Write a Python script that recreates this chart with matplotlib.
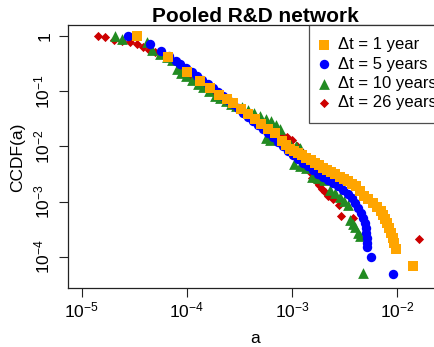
import numpy as np
import matplotlib
matplotlib.use("Agg")
import matplotlib.pyplot as plt
from matplotlib.ticker import FixedLocator, FuncFormatter, NullLocator

plt.rcParams['font.family'] = ['Liberation Sans', 'DejaVu Sans']
plt.rcParams['mathtext.fontset'] = 'custom'
plt.rcParams['mathtext.rm'] = 'Liberation Sans'
plt.rcParams['mathtext.it'] = 'Liberation Sans:italic'

# Complementary cumulative distributions of activity a (log10 values)
log10_a_1yr = [-4.472, -4.178, -3.997, -3.872, -3.782, -3.696, -3.623, -3.560, -3.487, -3.418,
               -3.354, -3.291, -3.228, -3.164, -3.098, -3.060, -3.022, -2.984, -2.946, -2.908,
               -2.863, -2.822, -2.784, -2.746, -2.706, -2.670, -2.632, -2.594, -2.547, -2.509,
               -2.471, -2.433, -2.388, -2.357, -2.319, -2.281, -2.234, -2.196, -2.158, -2.139,
               -2.120, -2.101, -2.082, -2.063, -2.044, -2.034, -2.015, -1.851]
log10_ccdf_1yr = [0.0, -0.375, -0.643, -0.806, -0.933, -1.060, -1.147, -1.219, -1.322, -1.413,
                  -1.509, -1.600, -1.690, -1.763, -1.902, -1.975, -2.047, -2.083, -2.120, -2.156,
                  -2.201, -2.246, -2.292, -2.337, -2.382, -2.428, -2.464, -2.500, -2.549, -2.591,
                  -2.627, -2.681, -2.717, -2.808, -2.899, -2.953, -3.025, -3.098, -3.170, -3.243,
                  -3.315, -3.388, -3.478, -3.569, -3.659, -3.750, -3.864, -4.167]

log10_a_5yr = [-4.560, -4.351, -4.247, -4.171, -4.104, -4.066, -4.009, -3.952, -3.905, -3.858,
               -3.800, -3.753, -3.706, -3.658, -3.611, -3.563, -3.516, -3.468, -3.421, -3.373,
               -3.326, -3.278, -3.231, -3.183, -3.136, -3.088, -3.041, -2.993, -2.946, -2.898,
               -2.851, -2.803, -2.756, -2.708, -2.661, -2.613, -2.566, -2.519, -2.471, -2.433,
               -2.405, -2.376, -2.348, -2.329, -2.310, -2.300, -2.295, -2.291, -2.286, -2.284,
               -2.253, -2.041]
log10_ccdf_5yr = [0.0, -0.136, -0.272, -0.362, -0.453, -0.507, -0.580, -0.652, -0.725, -0.797,
                  -0.870, -0.942, -1.014, -1.087, -1.159, -1.232, -1.304, -1.395, -1.467, -1.540,
                  -1.612, -1.685, -1.757, -1.830, -1.920, -1.993, -2.083, -2.156, -2.228, -2.301,
                  -2.355, -2.428, -2.500, -2.554, -2.609, -2.663, -2.717, -2.790, -2.862, -2.935,
                  -3.025, -3.116, -3.207, -3.297, -3.388, -3.478, -3.569, -3.659, -3.750, -3.828,
                  -4.009, -4.312]

log10_a_10yr = [-4.684, -4.617, -4.380, -4.332, -4.256, -4.190, -4.142, -4.095, -4.057, -4.009,
                -3.952, -3.896, -3.848, -3.791, -3.734, -3.687, -3.630, -3.582, -3.535, -3.478,
                -3.421, -3.364, -3.307, -3.250, -3.202, -3.155, -3.117, -3.250, -3.212, -3.079,
                -3.022, -2.965, -2.927, -2.984, -2.927, -2.870, -2.813, -2.756, -2.699, -2.642,
                -2.594, -2.547, -2.509, -2.471, -2.452, -2.424, -2.405, -2.376, -2.357, -2.326]
log10_ccdf_10yr = [0.0, -0.054, -0.100, -0.254, -0.326, -0.380, -0.435, -0.598, -0.670, -0.725,
                   -0.797, -0.870, -0.924, -0.996, -1.087, -1.123, -1.178, -1.232, -1.268, -1.286,
                   -1.341, -1.395, -1.449, -1.504, -1.540, -1.612, -1.685, -1.848, -1.884, -1.884,
                   -1.957, -1.993, -2.029, -2.319, -2.355, -2.391, -2.554, -2.572, -2.609, -2.790,
                   -2.844, -2.917, -2.989, -3.062, -3.333, -3.406, -3.460, -3.569, -3.623, -4.299]

log10_a_26yr = [-4.848, -4.779, -4.693, -4.617, -4.541, -4.475, -4.418, -4.361, -4.304, -4.237,
                -4.171, -4.114, -4.066, -4.009, -3.962, -3.905, -3.848, -3.791, -3.734, -3.677,
                -3.620, -3.563, -3.506, -3.449, -3.392, -3.335, -3.278, -3.221, -3.164, -3.107,
                -3.050, -3.003, -2.955, -2.908, -2.860, -2.832, -2.813, -2.775, -2.746, -2.718,
                -2.689, -2.661, -2.613, -2.556, -2.531, -2.421, -1.794]
log10_ccdf_26yr = [0.0, -0.010, -0.063, -0.091, -0.109, -0.145, -0.190, -0.245, -0.281, -0.326,
                   -0.380, -0.453, -0.543, -0.616, -0.725, -0.815, -0.888, -0.960, -1.051, -1.123,
                   -1.196, -1.268, -1.341, -1.395, -1.467, -1.540, -1.612, -1.685, -1.739, -1.775,
                   -1.830, -1.884, -1.993, -2.101, -2.210, -2.464, -2.572, -2.627, -2.699, -2.772,
                   -2.826, -2.899, -2.953, -3.062, -3.255, -3.302, -3.677]

series_labels = ["\u0394t = 1 year", "\u0394t = 5 years", "\u0394t = 10 years", "\u0394t = 26 years"]
x_tick_exponents = [-5, -4, -3, -2]
y_tick_exponents = [0, -1, -2, -3, -4]

W, H = 434, 347
fig = plt.figure(figsize=(W / 100, H / 100), dpi=100)
ax = fig.add_axes([68 / W, 1 - 288 / H, 374 / W, 263 / H])
ax.set_xscale('log')
ax.set_yscale('log')

styles = {
    '1yr': dict(marker='s', color='#FFA500', s=52),
    '5yr': dict(marker='o', color='#0000FF', s=46),
    '10yr': dict(marker='^', color='#228B22', s=60),
    '26yr': dict(marker='D', color='#CD0000', s=22),
}
data = {
    '1yr': (log10_a_1yr, log10_ccdf_1yr),
    '5yr': (log10_a_5yr, log10_ccdf_5yr),
    '10yr': (log10_a_10yr, log10_ccdf_10yr),
    '26yr': (log10_a_26yr, log10_ccdf_26yr),
}
handles = {}
# back-to-front: longest window underneath, 1-year window on top
for key in ['26yr', '10yr', '5yr', '1yr']:
    la, lc = data[key]
    handles[key] = ax.scatter(10.0 ** np.array(la), 10.0 ** np.array(lc),
                              linewidths=0, zorder=3, **styles[key])

ax.set_xlim(10 ** -5.13, 10 ** -1.575)
ax.set_ylim(10 ** -4.565, 10 ** 0.2)

def pow_fmt(v, pos):
    e = int(round(np.log10(v)))
    if e == 0:
        return '1'
    return r'$\mathregular{10^{%d}}$' % e

ax.xaxis.set_major_locator(FixedLocator([10.0 ** e for e in x_tick_exponents]))
ax.yaxis.set_major_locator(FixedLocator([10.0 ** e for e in y_tick_exponents]))
ax.xaxis.set_minor_locator(NullLocator())
ax.yaxis.set_minor_locator(NullLocator())
ax.xaxis.set_major_formatter(FuncFormatter(pow_fmt))
ax.yaxis.set_major_formatter(FuncFormatter(pow_fmt))
ax.tick_params(axis='both', direction='out', length=6.8, width=0.8, labelsize=12.5, color='#222222')
ax.tick_params(axis='x', pad=2.5)
ax.tick_params(axis='y', pad=4.5)
plt.setp(ax.get_yticklabels(), rotation=90, va='center')
for sp in ax.spines.values():
    sp.set_linewidth(0.9)
    sp.set_color('#222222')

leg = ax.legend([handles['1yr'], handles['5yr'], handles['10yr'], handles['26yr']],
                series_labels, loc='upper left', bbox_to_anchor=((309 - 68) / 374, 1.0),
                borderaxespad=0, frameon=True, fancybox=False, fontsize=12,
                scatterpoints=1, handlelength=0.25, handletextpad=0.75,
                borderpad=0.75, labelspacing=0.26)
leg.get_frame().set_edgecolor('#222222')
leg.get_frame().set_linewidth(0.9)
leg.set_zorder(5)

fig.text(255 / W, 1 - 22 / H, 'Pooled R&D network', ha='center', va='baseline',
         fontsize=15, fontweight='bold')
fig.text(255 / W, 1 - 343 / H, 'a', ha='center', va='baseline', fontsize=12.5)
fig.text(18 / W, 1 - 157 / H, 'CCDF(a)', ha='center', va='center', rotation=90, fontsize=12.5)

fig.savefig('out.png', dpi=100)
